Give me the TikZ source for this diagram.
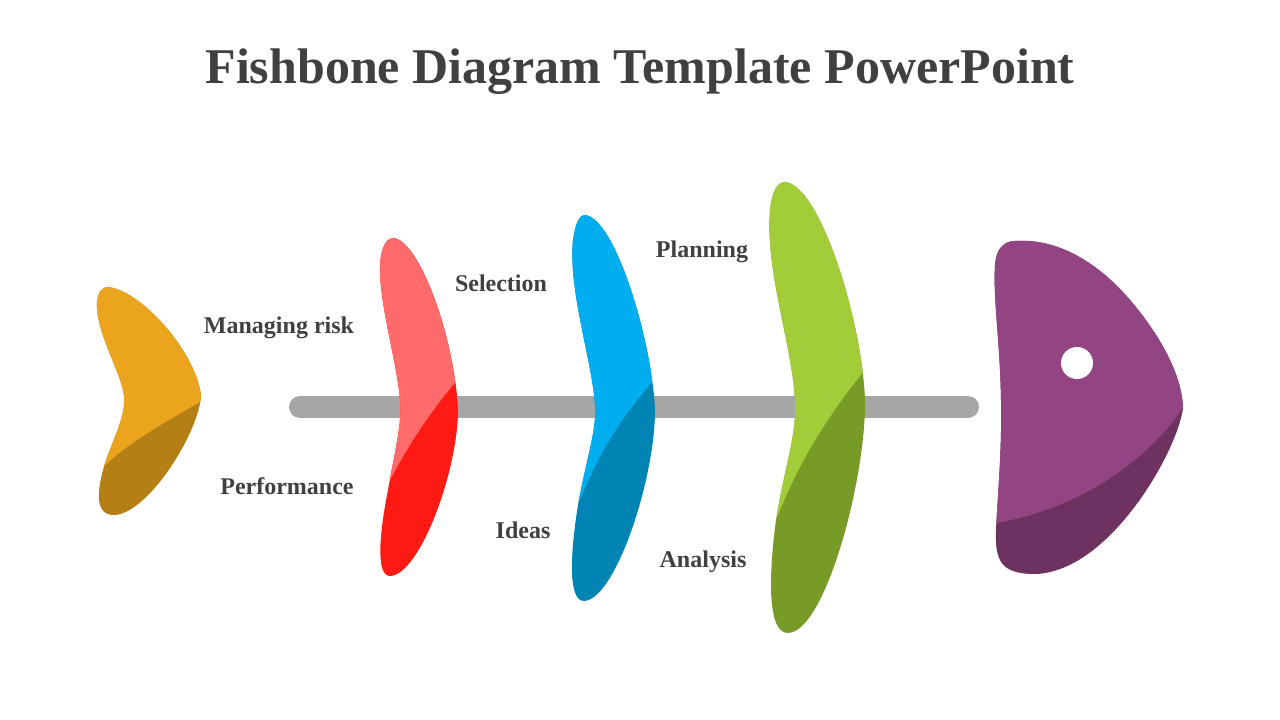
\documentclass[tikz,border=0pt]{standalone}
\usepackage{fontspec}
\setmainfont{Liberation Serif}
\definecolor{txt}{HTML}{404040}
\definecolor{spine}{HTML}{A6A6A6}
\definecolor{orL}{HTML}{EBA41E}\definecolor{orD}{HTML}{B47F14}
\definecolor{reL}{HTML}{FF6B6B}\definecolor{reD}{HTML}{FF1A14}
\definecolor{blL}{HTML}{00ADEF}\definecolor{blD}{HTML}{0084B4}
\definecolor{grL}{HTML}{A3CC39}\definecolor{grD}{HTML}{789A27}
\definecolor{puL}{HTML}{934583}\definecolor{puD}{HTML}{6D3260}
\begin{document}
\begin{tikzpicture}[x=1pt,y=-1pt,
  lbl/.style={font=\bfseries\fontsize{24}{28}\selectfont,text=txt}]
\useasboundingbox (0,0) rectangle (1280,720);
\node[font=\bfseries\fontsize{50}{58}\selectfont,text=txt] (title) at (640,72) {Fishbone Diagram Template PowerPoint};
% spine
\coordinate (s1) at (300,407); \coordinate (s2) at (968,407);
\draw[spine,line width=22pt,line cap=round] (s1) -- (s2);
% tail
\def\tail{(108,287) .. controls (140,290) and (195,350) .. (201,395) .. controls (200,430) and (150,512) .. (115,515) .. controls (92,516) and (98,485) .. (106,460) .. controls (115,435) and (126,415) .. (124,395) .. controls (120,370) and (95,330) .. (97,302) .. controls (98,292) and (102,287) .. (108,287) -- cycle}
\fill[orD] \tail;
\begin{scope}\clip \tail; \fill[orL] (80,270) -- (215,270) -- (215,393) .. controls (170,420) and (130,440) .. (100,470) -- (80,470) -- cycle;\end{scope}
% red
\def\red{(393,238) .. controls (420,240) and (455,340) .. (458,410) .. controls (458,470) and (420,575) .. (390,576) .. controls (375,576) and (380,530) .. (388,490) .. controls (395,450) and (402,425) .. (400,400) .. controls (397,360) and (375,290) .. (381,256) .. controls (383,244) and (388,238) .. (393,238) -- cycle}
\fill[reD] \red;
\begin{scope}\clip \red; \fill[reL] (360,220) -- (470,220) -- (470,365) .. controls (430,410) and (405,450) .. (385,490) -- (360,490) -- cycle;\end{scope}
% blue
\def\blue{(585,215) .. controls (615,218) and (652,340) .. (655,410) .. controls (655,480) and (615,600) .. (584,601) .. controls (568,601) and (570,555) .. (578,505) .. controls (586,460) and (597,430) .. (595,405) .. controls (592,360) and (568,290) .. (573,240) .. controls (575,225) and (579,215) .. (585,215) -- cycle}
\fill[blD] \blue;
\begin{scope}\clip \blue; \fill[blL] (550,200) -- (670,200) -- (670,362) .. controls (625,410) and (600,450) .. (580,500) -- (550,500) -- cycle;\end{scope}
% green
\def\green{(785,182) .. controls (820,185) and (862,320) .. (865,400) .. controls (866,480) and (825,632) .. (788,633) .. controls (768,633) and (768,580) .. (776,520) .. controls (785,465) and (797,435) .. (795,400) .. controls (792,345) and (765,270) .. (770,210) .. controls (772,192) and (777,182) .. (785,182) -- cycle}
\fill[grD] \green;
\begin{scope}\clip \green; \fill[grL] (750,170) -- (880,170) -- (880,352) .. controls (830,410) and (800,460) .. (778,515) -- (750,515) -- cycle;\end{scope}
% head
\def\head{(1015,241) .. controls (1060,238) and (1100,265) .. (1130,300) .. controls (1160,335) and (1182,375) .. (1183,408) .. controls (1178,450) and (1110,572) .. (1035,574) .. controls (1000,574) and (995,560) .. (996,530) .. controls (998,490) and (1002,450) .. (1001,400) .. controls (1000,340) and (993,300) .. (995,265) .. controls (996,250) and (1003,241) .. (1015,241) -- cycle}
\fill[puD] \head;
\begin{scope}\clip \head; \fill[puL] (980,220) -- (1200,220) -- (1200,402) -- (1183,408) .. controls (1140,470) and (1070,510) .. (996,523) -- (980,525) -- cycle;\end{scope}
\fill[white] (1077,363) circle (16);
% labels
\node[lbl] (l1) at (279,328) {Managing risk};
\node[lbl] (l2) at (287,486) {Performance};
\node[lbl] (l3) at (501,283) {Selection};
\node[lbl] (l4) at (523,530) {Ideas};
\node[lbl] (l5) at (702,252) {Planning};
\node[lbl] (l6) at (703,562) {Analysis};
\end{tikzpicture}
\end{document}
